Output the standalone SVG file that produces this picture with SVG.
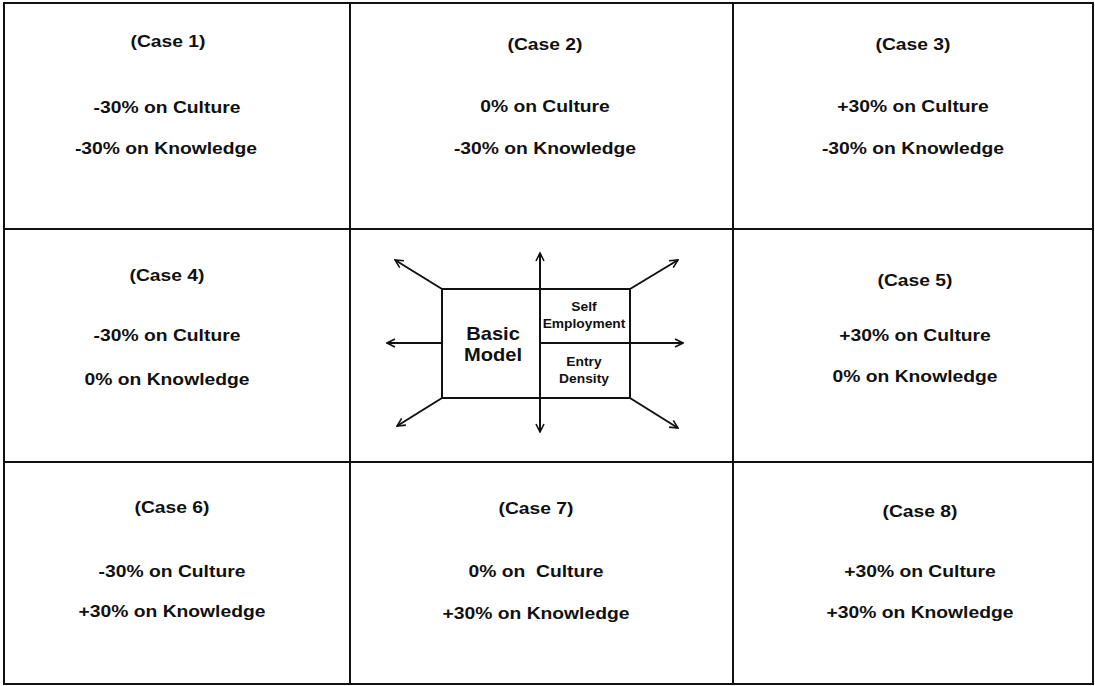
<svg xmlns="http://www.w3.org/2000/svg" width="1095" height="686" viewBox="0 0 1095 686">
<defs>
<style>
.grid{fill:none;stroke:#111;stroke-width:2}
.ln{fill:none;stroke:#111;stroke-width:2}
.t{font-family:"Liberation Sans",Arial,sans-serif;font-weight:bold;font-size:16.5px;fill:#111;text-anchor:middle}
.tb{font-family:"Liberation Sans",Arial,sans-serif;font-weight:bold;font-size:17.5px;fill:#111;text-anchor:middle}
.ts{font-family:"Liberation Sans",Arial,sans-serif;font-weight:bold;font-size:12px;fill:#111;text-anchor:middle}
</style>
<marker id="arr" viewBox="0 0 10 10" refX="9" refY="5" markerWidth="10" markerHeight="10" markerUnits="userSpaceOnUse" orient="auto">
<path d="M1,1 L9,5 L1,9" fill="none" stroke="#111" stroke-width="1.6"/>
</marker>
</defs>
<rect width="1095" height="686" fill="#fff"/>
<g id="grid">
<rect class="grid" x="4" y="3" width="1089" height="681"/>
<line class="grid" x1="350" y1="3" x2="350" y2="684"/>
<line class="grid" x1="733" y1="3" x2="733" y2="684"/>
<line class="grid" x1="4" y1="229" x2="1093" y2="229"/>
<line class="grid" x1="4" y1="462" x2="1093" y2="462"/>
</g>
<g id="case1">
<text class="t" transform="translate(168,47) scale(1.17,1)">(Case 1)</text>
<text class="t" transform="translate(167,113) scale(1.17,1)">-30% on Culture</text>
<text class="t" transform="translate(166,154) scale(1.17,1)">-30% on Knowledge</text>
</g>
<g id="case2">
<text class="t" transform="translate(545,50) scale(1.17,1)">(Case 2)</text>
<text class="t" transform="translate(545,112) scale(1.17,1)">0% on Culture</text>
<text class="t" transform="translate(545,154) scale(1.17,1)">-30% on Knowledge</text>
</g>
<g id="case3">
<text class="t" transform="translate(913,50) scale(1.17,1)">(Case 3)</text>
<text class="t" transform="translate(913,112) scale(1.17,1)">+30% on Culture</text>
<text class="t" transform="translate(913,154) scale(1.17,1)">-30% on Knowledge</text>
</g>
<g id="case4">
<text class="t" transform="translate(167,281) scale(1.17,1)">(Case 4)</text>
<text class="t" transform="translate(167,341) scale(1.17,1)">-30% on Culture</text>
<text class="t" transform="translate(167,385) scale(1.17,1)">0% on Knowledge</text>
</g>
<g id="case5">
<text class="t" transform="translate(915,286) scale(1.17,1)">(Case 5)</text>
<text class="t" transform="translate(915,341) scale(1.17,1)">+30% on Culture</text>
<text class="t" transform="translate(915,382) scale(1.17,1)">0% on Knowledge</text>
</g>
<g id="case6">
<text class="t" transform="translate(172,513) scale(1.17,1)">(Case 6)</text>
<text class="t" transform="translate(172,577) scale(1.17,1)">-30% on Culture</text>
<text class="t" transform="translate(172,617) scale(1.17,1)">+30% on Knowledge</text>
</g>
<g id="case7">
<text class="t" transform="translate(536,514) scale(1.17,1)">(Case 7)</text>
<text class="t" xml:space="preserve" transform="translate(536,577) scale(1.17,1)">0% on  Culture</text>
<text class="t" transform="translate(536,619) scale(1.17,1)">+30% on Knowledge</text>
</g>
<g id="case8">
<text class="t" transform="translate(920,517) scale(1.17,1)">(Case 8)</text>
<text class="t" transform="translate(920,577) scale(1.17,1)">+30% on Culture</text>
<text class="t" transform="translate(920,618) scale(1.17,1)">+30% on Knowledge</text>
</g>
<g id="basic-model">
<rect class="ln" x="442" y="289" width="188" height="109"/>
<text class="tb" transform="translate(493,340) scale(1.15,1)">Basic</text>
<text class="tb" transform="translate(493,361) scale(1.15,1)">Model</text>
<text class="ts" transform="translate(584,311) scale(1.15,1)">Self</text>
<text class="ts" transform="translate(584,328) scale(1.15,1)">Employment</text>
<text class="ts" transform="translate(584,366) scale(1.15,1)">Entry</text>
<text class="ts" transform="translate(584,383) scale(1.15,1)">Density</text>
</g>
<g id="connectors">
<line class="ln" x1="540" y1="343" x2="540" y2="253" marker-end="url(#arr)"/>
<line class="ln" x1="540" y1="343" x2="540" y2="432" marker-end="url(#arr)"/>
<line class="ln" x1="540" y1="343" x2="683" y2="343" marker-end="url(#arr)"/>
<line class="ln" x1="442" y1="343" x2="387" y2="343" marker-end="url(#arr)"/>
<line class="ln" x1="442" y1="289" x2="395" y2="260" marker-end="url(#arr)"/>
<line class="ln" x1="630" y1="289" x2="678" y2="260" marker-end="url(#arr)"/>
<line class="ln" x1="442" y1="398" x2="397" y2="426" marker-end="url(#arr)"/>
<line class="ln" x1="630" y1="398" x2="678" y2="428" marker-end="url(#arr)"/>
</g>
</svg>
